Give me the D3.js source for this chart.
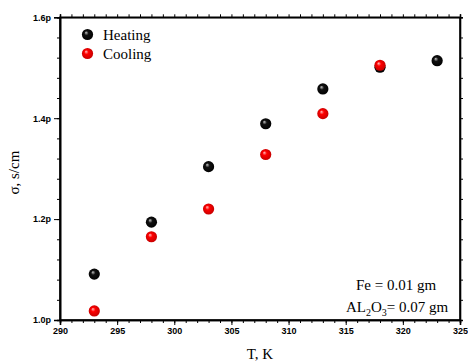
<!DOCTYPE html>
<html>
<head>
<meta charset="utf-8">
<script src="https://cdn.jsdelivr.net/npm/d3@7"></script>
<style>
  html, body { margin: 0; padding: 0; background: #fff; }
  svg { display: block; }
  .tick text { font-family: "Liberation Sans", Arial, sans-serif; font-weight: 700; font-size: 9px; fill: #000; }
</style>
</head>
<body>
<svg id="chart" width="468" height="362"></svg>
<script>
// Temperature (K) and conductivity (x1e-12 S/cm, shown with "p" suffix)
const temperature = [293, 298, 303, 308, 313, 318, 323];
const heating = [1.091, 1.194, 1.304, 1.389, 1.458, 1.501, 1.514];
const coolingTemp = [293, 298, 303, 308, 313, 318];
const cooling = [1.018, 1.165, 1.220, 1.328, 1.409, 1.505];
const xTicks = [290, 295, 300, 305, 310, 315, 320, 325];
const yTicks = [1.0, 1.2, 1.4, 1.6];
const yTickLabels = ["1.0p", "1.2p", "1.4p", "1.6p"];
const legendNames = ["Heating", "Cooling"];

const svg = d3.select("#chart");
const margin = { left: 60, right: 8, top: 17.3, bottom: 42 };
const W = 468, H = 362;
const x = d3.scaleLinear().domain([290, 325]).range([margin.left, W - margin.right]);
const y = d3.scaleLinear().domain([1.0, 1.6]).range([H - margin.bottom, margin.top]);

// glossy sphere gradients
const defs = svg.append("defs");
function sphere(id, base, dark, light) {
  const g = defs.append("radialGradient").attr("id", id)
    .attr("cx", "0.5").attr("cy", "0.5").attr("r", "0.55")
    .attr("fx", "0.36").attr("fy", "0.32");
  g.append("stop").attr("offset", "0%").attr("stop-color", light);
  g.append("stop").attr("offset", "35%").attr("stop-color", base);
  g.append("stop").attr("offset", "100%").attr("stop-color", dark);
}
sphere("gBlack", "#111", "#000", "#c8c8c8");
sphere("gRed", "#ff0000", "#c00000", "#ffc0c0");

function styleTicks(g) {
  g.attr("font-family", null).attr("font-size", null);
  g.selectAll("text")
    .attr("font-family", "Liberation Sans, Arial, sans-serif")
    .attr("font-weight", "bold").attr("font-size", 9).attr("fill", "#000");
}

// bottom axis: majors every 5 K with labels, minors every 1 K
const xMinor = d3.range(290, 326, 1);
const bottom = svg.append("g").attr("transform", `translate(0,${y(1.0)})`);
bottom.call(d3.axisBottom(x).tickValues(xMinor).tickSize(3).tickFormat(""));
const bottomMajor = bottom.append("g")
  .call(d3.axisBottom(x).tickValues(xTicks).tickSize(5).tickFormat(d3.format("d")).tickPadding(3));
styleTicks(bottomMajor);

// top axis: ticks every 1 K, no labels
svg.append("g").attr("transform", `translate(0,${y(1.6)})`)
  .call(d3.axisTop(x).tickValues(xMinor).tickSize(3).tickFormat(""));

// left axis: majors every 0.2 with labels, minors every 0.04
const yMinor = d3.range(0, 16).map(i => 1.0 + i * 0.04);
const left = svg.append("g").attr("transform", `translate(${x(290)},0)`);
left.call(d3.axisLeft(y).tickValues(yMinor).tickSize(3).tickFormat(""));
const leftMajor = left.append("g").call(d3.axisLeft(y).tickValues(yTicks).tickSize(6)
  .tickFormat((d, i) => yTickLabels[i]).tickPadding(3));
styleTicks(leftMajor);

// right axis: ticks every 0.04, no labels
svg.append("g").attr("transform", `translate(${x(325)},0)`)
  .call(d3.axisRight(y).tickValues(yMinor).tickSize(3).tickFormat(""));

svg.selectAll(".domain").attr("stroke", "#000").attr("stroke-width", 1.6);
svg.selectAll(".tick line").attr("stroke", "#000").attr("stroke-width", 1);

// frame
svg.append("rect")
  .attr("x", x(290)).attr("y", y(1.6))
  .attr("width", x(325) - x(290)).attr("height", y(1.0) - y(1.6))
  .attr("fill", "none").attr("stroke", "#000").attr("stroke-width", 1.6);

// data points
const R = 5.6;
svg.append("g").selectAll("circle").data(temperature.map((t, i) => [t, heating[i]]))
  .join("circle").attr("cx", d => x(d[0])).attr("cy", d => y(d[1])).attr("r", R)
  .attr("fill", "url(#gBlack)");
svg.append("g").selectAll("circle").data(coolingTemp.map((t, i) => [t, cooling[i]]))
  .join("circle").attr("cx", d => x(d[0])).attr("cy", d => y(d[1])).attr("r", R)
  .attr("fill", "url(#gRed)");

const serif = "'Liberation Serif', 'Times New Roman', serif";

// legend
const legend = svg.append("g");
legendNames.forEach((name, i) => {
  const ly = 34.5 + i * 19;
  legend.append("circle").attr("cx", 87.5).attr("cy", ly).attr("r", R)
    .attr("fill", i === 0 ? "url(#gBlack)" : "url(#gRed)");
  legend.append("text").attr("x", 103).attr("y", ly + 5)
    .style("font", `15px ${serif}`).text(name);
});

// composition note
svg.append("text").attr("x", 396).attr("y", 290).attr("text-anchor", "middle")
  .style("font", `15px ${serif}`).text("Fe = 0.01 gm");
const al = svg.append("text").attr("x", 397).attr("y", 312).attr("text-anchor", "middle")
  .style("font", `15px ${serif}`);
al.append("tspan").text("AL");
al.append("tspan").attr("dy", 4).style("font-size", "10px").text("2");
al.append("tspan").attr("dy", -4).text("O");
al.append("tspan").attr("dy", 4).style("font-size", "10px").text("3");
al.append("tspan").attr("dy", -4).text("= 0.07 gm");

// axis titles
svg.append("text").attr("x", 260).attr("y", 359).attr("text-anchor", "middle")
  .style("font", `15px ${serif}`).text("T, K");
svg.append("text").attr("transform", `translate(19,${(y(1.0) + y(1.6)) / 2 + 4}) rotate(-90)`)
  .attr("text-anchor", "middle").style("font", `15px ${serif}`).text("σ, s/cm");
</script>
</body>
</html>
